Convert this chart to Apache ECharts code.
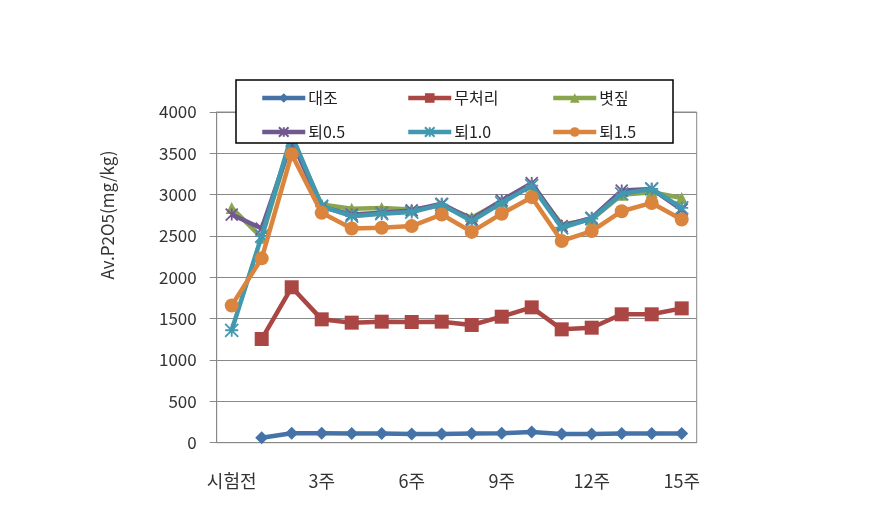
<!DOCTYPE html>
<html><head><meta charset="utf-8">
<script src="https://cdn.jsdelivr.net/npm/echarts@6/dist/echarts.min.js"></script>
<style>html,body{margin:0;padding:0;background:#fff}#c{width:880px;height:507px}</style>
</head><body><div id="c"></div>
<script>
const categories = ['시험전','1주','2주','3주','4주','5주','6주','7주','8주','9주','10주','11주','12주','13주','14주','15주'];
const yTicks = [0, 500, 1000, 1500, 2000, 2500, 3000, 3500, 4000];
const daejo   = [null, 60, 115, 115, 110, 110, 105, 105, 110, 115, 130, 105, 105, 110, 110, 110];
const mucheori = [null, 1254, 1880, 1492, 1452, 1464, 1460, 1464, 1424, 1524, 1637, 1371, 1391, 1553, 1553, 1625];
const byeotjip = [2840, 2480, 3680, 2880, 2830, 2840, 2820, 2870, 2720, 2920, 3120, 2640, 2700, 3000, 3030, 2960];
const toe05    = [2760, 2590, 3650, 2850, 2760, 2780, 2810, 2890, 2700, 2930, 3140, 2620, 2720, 3050, 3070, 2820];
const toe10    = [1360, 2500, 3720, 2860, 2740, 2770, 2790, 2880, 2680, 2900, 3110, 2600, 2710, 3010, 3070, 2840];
const toe15    = [1660, 2230, 3490, 2780, 2590, 2600, 2620, 2760, 2550, 2770, 2970, 2440, 2560, 2800, 2900, 2700];

const names = ['대조','무처리','볏짚','퇴0.5','퇴1.0','퇴1.5'];
const colors = ['#4572A7','#AA4643','#89A54E','#71588F','#4198AF','#DB843D'];
const symbols = ['diamond','rect','triangle',
  'path://M0,0L10,10M10,0L0,10M5,0L5,10',
  'path://M0,0L10,10M10,0L0,10M5,0L5,10M0,5L10,5',
  'circle'];
const sizes = [13, 14, 12, 12, 13, 14];
const datas = [daejo, mucheori, byeotjip, toe05, toe10, toe15];

const font = '"Noto Sans CJK KR", "Noto Sans", sans-serif';
const series = names.map((n, i) => ({
  name: n, type: 'line', data: datas[i], symbol: symbols[i], symbolSize: sizes[i],
  showAllSymbol: true, connectNulls: false,
  lineStyle: { color: colors[i], width: 4.5 },
  itemStyle: { color: colors[i], borderColor: colors[i], borderWidth: (i===3||i===4)?1.8:0 },
  z: 2 + i
}));

const legendPos = [[260,90],[406,90],[551,90],[260,124],[406,124],[551,124]];
const legends = names.map((n, i) => ({
  data: [n], left: legendPos[i][0], top: legendPos[i][1], orient: 'horizontal',
  itemWidth: 43, itemHeight: 12, itemGap: 0, padding: 0, z: 20,
  lineStyle: { width: 4.5 },
  textStyle: { fontFamily: font, fontSize: 16, color: '#222', padding: [0,0,0,-2] }
}));

const chart = echarts.init(document.getElementById('c'));
chart.setOption({
  animation: false,
  backgroundColor: '#fff',
  color: colors,
  grid: { left: 216.7, right: 183.3, top: 112, bottom: 64.3, show: true, borderColor: '#888', borderWidth: 1, backgroundColor: 'transparent' },
  legend: legends,
  graphic: [
    { type: 'rect', z: 15, shape: { x: 236, y: 80, width: 437, height: 63 },
      style: { fill: '#fff', stroke: '#000', lineWidth: 1.5 } },
    { type: 'text', z: 15, x: 108, y: 215, rotation: Math.PI/2,
      style: { text: 'Av.P2O5(mg/kg)', font: '17px ' + font, fill: '#333', textAlign: 'center', textVerticalAlign: 'middle' } }
  ],
  xAxis: {
    type: 'category', data: categories, boundaryGap: true,
    axisLine: { lineStyle: { color: '#888', width: 1 } },
    axisTick: { show: false },
    axisLabel: { interval: 2, margin: 29, fontFamily: font, fontSize: 18, color: '#333' },
    splitLine: { show: false }
  },
  yAxis: {
    type: 'value', min: yTicks[0], max: yTicks[yTicks.length-1], interval: 500,
    axisLine: { show: true, lineStyle: { color: '#888', width: 1 } },
    axisTick: { show: true, length: 7, inside: false, lineStyle: { color: '#888' } },
    axisLabel: { margin: 20, fontFamily: font, fontSize: 17, color: '#333', formatter: v => String(v) },
    splitLine: { show: true, lineStyle: { color: '#888', width: 1 } }
  },
  series: series
});
</script></body></html>
